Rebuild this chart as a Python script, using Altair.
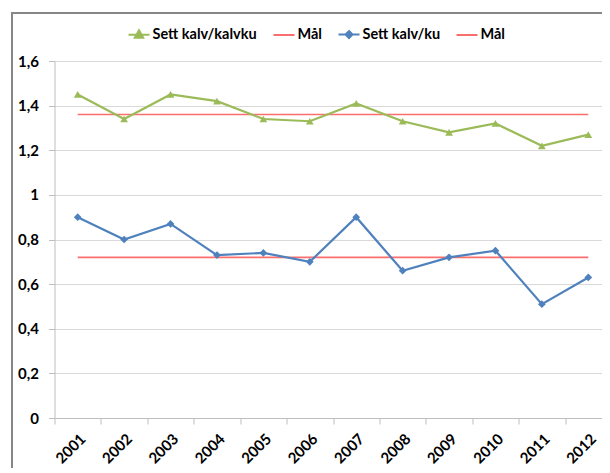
import altair as alt
import pandas as pd

years = [str(y) for y in range(2001, 2013)]
sett_kalv_kalvku = [1.45, 1.34, 1.45, 1.42, 1.34, 1.33, 1.41, 1.33, 1.28, 1.32, 1.22, 1.27]
sett_kalv_ku = [0.90, 0.80, 0.87, 0.73, 0.74, 0.70, 0.90, 0.66, 0.72, 0.75, 0.51, 0.63]
maal_kalvku = [1.36, 1.36, 1.36, 1.36, 1.36, 1.36, 1.36, 1.36, 1.36, 1.36, 1.36, 1.36]
maal_ku = [0.72, 0.72, 0.72, 0.72, 0.72, 0.72, 0.72, 0.72, 0.72, 0.72, 0.72, 0.72]
y_ticks = [0, 0.2, 0.4, 0.6, 0.8, 1.0, 1.2, 1.4, 1.6]

S1, M1, S2, M2 = "Sett kalv/kalvku", "Mål", "Sett kalv/ku", "Mål "
series_order = [S1, M1, S2, M2]
GREEN, RED, BLUE = "#9bbb59", "#fa6e6e", "#4f81bd"
colors = [GREEN, RED, BLUE, RED]

rows = []
for name, vals in zip(series_order, [sett_kalv_kalvku, maal_kalvku, sett_kalv_ku, maal_ku]):
    for yr, v in zip(years, vals):
        rows.append({"year": yr, "value": v, "series": name})
df = pd.DataFrame(rows)

W, H = 547, 357
FONT = "Lato"

x_enc = alt.X(
    "year:O",
    bandPosition=0.5,
    scale=alt.Scale(type="band", paddingInner=0, paddingOuter=0, range=[0, 557]),
    axis=alt.Axis(
        title=None, grid=False, tickBand="extent", labelAngle=-45,
        labelFont=FONT, labelFontWeight="bold", labelFontSize=15, labelColor="black",
        domainColor="#bfbfbf", tickColor="#bfbfbf", tickSize=6, labelPadding=7,
    ),
)
y_enc = alt.Y(
    "value:Q",
    scale=alt.Scale(domain=[0, 1.6], nice=False),
    axis=alt.Axis(
        title=None, values=y_ticks, gridColor="#d9d9d9",
        labelExpr="replace(format(datum.value, '.1~f'), '.', ',')",
        labelFont=FONT, labelFontWeight="bold", labelFontSize=15, labelColor="black",
        domainColor="#bfbfbf", tickColor="#bfbfbf", tickSize=6, labelPadding=10,
    ),
)

shape_expr = (
    "datum.value === 'Sett kalv/kalvku' ? 'M-1,0H1M0,-0.42L0.4,0.3L-0.4,0.3Z' : "
    "datum.value === 'Sett kalv/ku' ? 'M-1,0H1M0,-0.33L0.33,0L0,0.33L-0.33,0Z' : 'M-1,0H1'"
)
color_expr = (
    "datum.value === 'Sett kalv/kalvku' ? '#9bbb59' : "
    "datum.value === 'Sett kalv/ku' ? '#4f81bd' : '#fa6e6e'"
)

legend = alt.Legend(
    orient="none", legendX=73, legendY=-38, direction="horizontal", title=None,
    labelFont=FONT, labelFontWeight="bold", labelFontSize=14.5, labelColor="black",
    symbolSize=441, symbolStrokeWidth=2, columnPadding=12, labelOffset=2, padding=0,
    labelExpr="trim(datum.label)",
    symbolType=alt.ExprRef(expr=shape_expr),
    symbolFillColor=alt.ExprRef(expr=color_expr),
    symbolStrokeColor=alt.ExprRef(expr=color_expr),
    symbolOpacity=1,
)
color_enc = alt.Color("series:N", scale=alt.Scale(domain=series_order, range=colors), legend=legend)

data_lines = alt.Chart(df).transform_filter(
    alt.FieldOneOfPredicate(field="series", oneOf=[S1, S2])
).mark_line(strokeWidth=2.2).encode(x=x_enc, y=y_enc, color=color_enc)

target_lines = alt.Chart(df).transform_filter(
    alt.FieldOneOfPredicate(field="series", oneOf=[M1, M2])
).mark_line(strokeWidth=1.6).encode(x=x_enc, y=y_enc, color=color_enc)

points = alt.Chart(df).transform_filter(
    alt.FieldOneOfPredicate(field="series", oneOf=[S1, S2])
).mark_point(filled=True, opacity=1, size=60).encode(
    x=x_enc, y=y_enc,
    fill=alt.Fill("series:N", scale=alt.Scale(domain=[S1, S2], range=[GREEN, BLUE]), legend=None),
    shape=alt.Shape("series:N", scale=alt.Scale(domain=[S1, S2], range=["triangle-up", "diamond"]), legend=None),
)

frame = alt.Chart(alt.Data(values=[{}])).mark_rect(
    fill="transparent", stroke="#868686", strokeWidth=2
).encode(
    x=alt.value(-42.5), x2=alt.value(W + 100), y=alt.value(-48), y2=alt.value(H + 100)
)

chart = alt.layer(frame, target_lines, data_lines, points).properties(
    width=W, height=H,
    autosize=alt.AutoSizeParams(type="none"),
    padding={"left": 46.5, "top": 53, "right": 0, "bottom": 50},
).configure_view(strokeWidth=0).resolve_scale(fill="independent", shape="independent")

chart.save("out.html", embed_options={"renderer": "svg", "actions": False})
